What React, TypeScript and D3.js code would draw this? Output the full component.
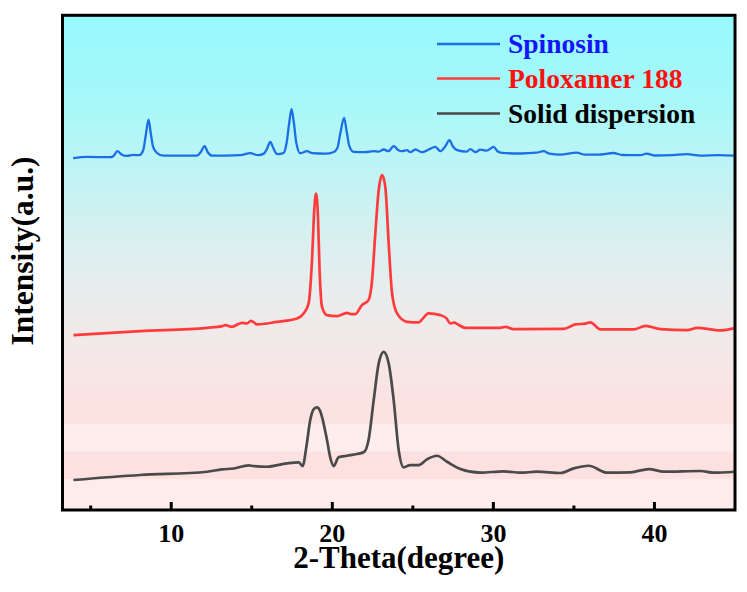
import * as React from "react";
import { useEffect, useRef } from "react";
import { select, scaleLinear, line, curveMonotoneX } from "d3";

// 2-theta (deg) / intensity (a.u.) pairs for each pattern
const spinosin: [number, number][] = [
  [3.91, 352], [4.76, 353.3], [6.21, 353], [6.4, 354], [6.66, 359], [6.89, 356],
  [7.25, 354.3], [7.64, 355.3], [8.01, 355], [8.26, 360], [8.42, 375], [8.59, 390.7],
  [8.73, 377], [8.88, 363], [9.13, 357], [9.5, 354.5], [11.6, 354.5], [11.83, 358],
  [12.07, 364], [12.27, 358], [12.55, 354.5], [14.29, 355], [14.9, 357], [15.4, 355],
  [15.78, 357], [15.96, 362], [16.15, 368.3], [16.34, 362], [16.58, 356], [16.96, 357],
  [17.17, 368], [17.33, 388], [17.47, 401], [17.61, 388], [17.76, 368], [18.01, 357],
  [18.43, 359], [18.76, 357], [19.57, 356.5], [20.06, 358], [20.31, 362], [20.5, 377],
  [20.73, 392.3], [20.9, 378], [21.06, 364], [21.32, 358.3], [22.05, 358], [22.57, 359],
  [22.86, 358.5], [23.19, 360.7], [23.48, 359], [23.81, 364], [24.1, 360], [24.33, 359],
  [24.64, 360], [24.84, 358], [25.16, 360.7], [25.57, 358], [25.98, 360.7], [26.4, 363.3],
  [26.71, 359], [27.02, 364], [27.27, 370], [27.48, 364], [27.75, 360], [28.32, 358.5],
  [28.57, 361], [28.88, 358], [29.19, 360.5], [29.57, 359.5], [30.02, 363.3], [30.25, 359],
  [30.54, 357.3], [31.68, 356.7], [32.67, 357.5], [33.12, 359], [33.48, 356.5], [34.16, 355.5],
  [35.16, 357.5], [35.71, 355.5], [36.52, 355.5], [37.45, 357.2], [38.01, 355.2], [39.13, 355],
  [39.5, 356.5], [40.06, 354.7], [41.12, 355], [41.99, 356], [42.86, 354.5], [43.98, 355],
  [44.97, 354.5],
];

const poloxamer: [number, number][] = [
  [3.93, 175], [8.07, 179], [12.22, 182.3], [13.17, 184], [13.35, 185], [13.77, 183.3],
  [14.16, 186], [14.39, 187.3], [14.7, 186.7], [14.95, 189.3], [15.32, 185.7], [16.57, 188.3],
  [17.81, 191.7], [18.22, 196.7], [18.53, 206.7], [18.74, 250], [18.88, 300], [18.99, 316.7],
  [19.11, 293.3], [19.21, 240], [19.36, 203.3], [19.67, 195], [20.29, 194], [20.91, 197.3],
  [21.18, 196], [21.43, 196], [21.84, 205], [22.25, 210], [22.47, 230], [22.67, 276.7],
  [22.88, 320], [23.09, 335], [23.29, 323.3], [23.5, 266.7], [23.71, 216.7], [24.02, 196.7],
  [24.64, 188.3], [25.36, 187.7], [25.53, 190], [25.98, 196.7], [26.71, 195], [27.08, 192],
  [27.33, 186.7], [27.58, 187.5], [27.76, 186], [28.26, 182.3], [30.43, 182.3], [30.75, 183.3],
  [31.26, 181], [34.37, 181.3], [35.09, 185.7], [35.71, 186.5], [36.02, 187.7], [36.65, 180.7],
  [38.71, 180.7], [39.44, 184.3], [40.37, 181], [42.03, 180], [42.65, 182.3], [44.1, 179.7],
  [44.97, 182],
];

const dispersion: [number, number][] = [
  [3.93, 30], [8.07, 35], [12.22, 38.3], [13.15, 40.7], [13.87, 41.5], [14.8, 44.7],
  [15.11, 44], [15.94, 43.3], [17.19, 46.7], [17.91, 47.7], [18.16, 44], [18.39, 63.3],
  [18.63, 90], [18.85, 101], [19.05, 102.7], [19.22, 100], [19.36, 93.3], [19.67, 70],
  [19.88, 52], [20.08, 44], [20.39, 52.7], [20.91, 54.3], [21.53, 56], [21.99, 58.3],
  [22.25, 70], [22.57, 110], [22.88, 146.7], [23.19, 158.3], [23.5, 146.7], [23.81, 110],
  [24.12, 60], [24.43, 42.7], [24.84, 45], [25.36, 45], [25.88, 50.7], [26.5, 54.3],
  [27.12, 48.3], [27.95, 41], [29.19, 37.3], [30.64, 38.7], [31.68, 37.3], [32.71, 38.3],
  [34.16, 37], [34.99, 41.7], [35.92, 44.3], [37.06, 37.3], [38.51, 37.7], [39.65, 41],
  [40.58, 38.3], [42.86, 39], [43.68, 37.3], [44.97, 38.3],
];

const seriesNames = ["Spinosin", "Poloxamer 188", "Solid dispersion"];
const lineColors = ["#1b6fe6", "#ff3b3b", "#4a4a4a"];
const labelColors = ["#1414ff", "#ff1010", "#000000"];
const majorTicks = [10, 20, 30, 40];
const minorTicks = [5, 15, 25, 35];

const W = 747;
const H = 592;
const m = { left: 62.5, right: 735, top: 15.3, bottom: 510 };
const FONT = "'Liberation Serif', 'Times New Roman', serif";

function XrdChart() {
  const svgRef = useRef<SVGSVGElement>(null);

  useEffect(() => {
    const svg = select(svgRef.current);
    svg.selectAll("*").remove();

    const x = scaleLinear().domain([3.25, 45]).range([m.left, m.right]);
    const y = scaleLinear().domain([0, 495]).range([m.bottom, m.top]);

    // background gradient cyan -> grey -> pink
    const defs = svg.append("defs");
    const grad = defs
      .append("linearGradient")
      .attr("id", "bg")
      .attr("x1", 0).attr("y1", 0).attr("x2", 0).attr("y2", 1);
    [
      [0, "#97f9fb"], [0.17, "#a6f8f9"], [0.33, "#c3f3f4"], [0.47, "#dcefef"],
      [0.58, "#ebecec"], [0.66, "#f2e9e9"], [0.78, "#fbe3e2"], [1, "#fce2e1"],
    ].forEach(([o, c]) => grad.append("stop").attr("offset", o as number).attr("stop-color", c as string));

    svg.append("rect")
      .attr("x", m.left).attr("y", m.top)
      .attr("width", m.right - m.left).attr("height", m.bottom - m.top)
      .attr("fill", "url(#bg)");

    // stepped bands near the bottom
    const bands: [number, number, string][] = [
      [424.3, 451.7, "#fdeeed"],
      [451.7, 479, "#fce1e0"],
      [479, m.bottom, "#fdeceb"],
    ];
    svg.selectAll(".band").data(bands).join("rect")
      .attr("class", "band")
      .attr("x", m.left).attr("width", m.right - m.left)
      .attr("y", (d) => d[0]).attr("height", (d) => d[1] - d[0])
      .attr("fill", (d) => d[2]);

    const pattern = line<[number, number]>()
      .x((d) => x(d[0]))
      .y((d) => y(d[1]))
      .curve(curveMonotoneX);

    svg.selectAll(".pattern")
      .data([spinosin, poloxamer, dispersion])
      .join("path")
      .attr("class", "pattern")
      .attr("d", (d) => pattern(d))
      .attr("fill", "none")
      .attr("stroke", (d, i) => lineColors[i])
      .attr("stroke-width", (d, i) => (i === 0 ? 2.3 : 2.7))
      .attr("stroke-linejoin", "round");

    // frame
    svg.append("rect")
      .attr("x", m.left).attr("y", m.top)
      .attr("width", m.right - m.left).attr("height", m.bottom - m.top)
      .attr("fill", "none").attr("stroke", "#000").attr("stroke-width", 3);

    // inward ticks on the bottom axis
    svg.selectAll(".major").data(majorTicks).join("line")
      .attr("class", "major")
      .attr("x1", (d) => x(d)).attr("x2", (d) => x(d))
      .attr("y1", m.bottom).attr("y2", m.bottom - 8)
      .attr("stroke", "#000").attr("stroke-width", 3);
    svg.selectAll(".minor").data(minorTicks).join("line")
      .attr("class", "minor")
      .attr("x1", (d) => x(d)).attr("x2", (d) => x(d))
      .attr("y1", m.bottom).attr("y2", m.bottom - 4.5)
      .attr("stroke", "#000").attr("stroke-width", 3);

    svg.selectAll(".tick-label").data(majorTicks).join("text")
      .attr("class", "tick-label")
      .attr("x", (d) => x(d)).attr("y", 542)
      .attr("text-anchor", "middle")
      .attr("font-family", FONT).attr("font-weight", "bold").attr("font-size", 26)
      .text((d) => d);

    svg.append("text")
      .attr("x", (m.left + m.right) / 2).attr("y", 568)
      .attr("text-anchor", "middle")
      .attr("font-family", FONT).attr("font-weight", "bold").attr("font-size", 31)
      .text("2-Theta(degree)");

    svg.append("text")
      .attr("transform", "translate(33,251) rotate(-90)")
      .attr("text-anchor", "middle")
      .attr("font-family", FONT).attr("font-weight", "bold").attr("font-size", 31.5)
      .text("Intensity(a.u.)");

    // legend
    const legendY = [44, 78.5, 113.5];
    const legend = svg.selectAll(".legend").data(seriesNames).join("g")
      .attr("class", "legend")
      .attr("transform", (d, i) => `translate(0,${legendY[i]})`);
    legend.append("line")
      .attr("x1", 437).attr("x2", 500)
      .attr("stroke", (d, i) => lineColors[i]).attr("stroke-width", 2.6);
    legend.append("text")
      .attr("x", 508).attr("y", 9)
      .attr("font-family", FONT).attr("font-weight", "bold").attr("font-size", 27.5)
      .attr("fill", (d, i) => labelColors[i])
      .text((d) => d);
  }, []);

  return (
    <svg
      ref={svgRef}
      width={W}
      height={H}
      style={{ position: "absolute", left: 0, top: 0, background: "#fff" }}
    />
  );
}

export default function App() {
  return <XrdChart />;
}
